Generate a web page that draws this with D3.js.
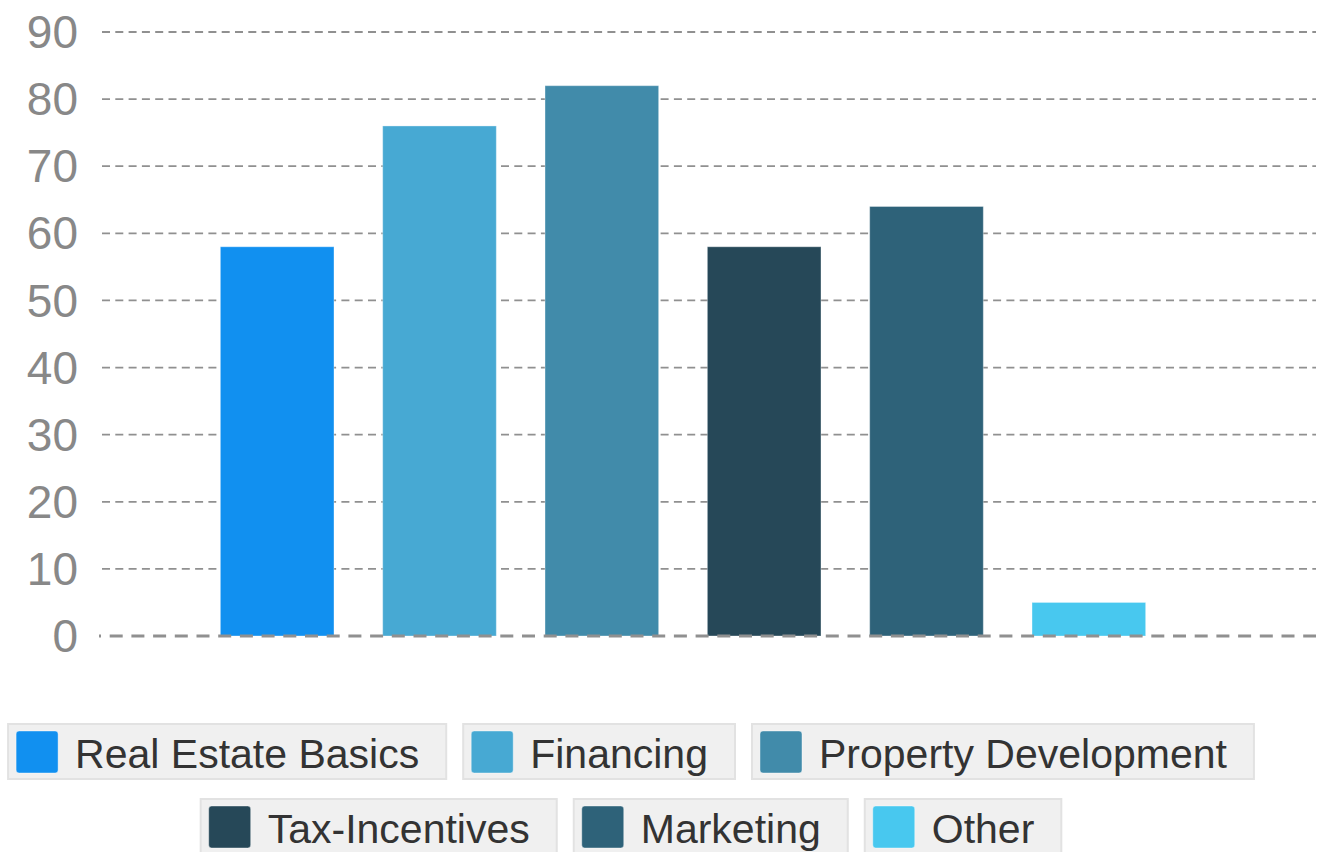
<!DOCTYPE html>
<html>
<head>
<meta charset="utf-8">
<script src="https://cdn.jsdelivr.net/npm/d3@7"></script>
<style>
  html, body { margin: 0; padding: 0; background: #ffffff; }
  svg { display: block; font-family: "Liberation Sans", Arial, sans-serif; }
</style>
</head>
<body>
<svg id="chart" width="1320" height="852"></svg>
<script>
const categories = ["Real Estate Basics", "Financing", "Property Development", "Tax-Incentives", "Marketing", "Other"];
const values = [58, 76, 82, 58, 64, 5];
const colors = ["#1190F0", "#47A9D3", "#418BAA", "#264858", "#2E6279", "#48C8EF"];
const yTicks = [0, 10, 20, 30, 40, 50, 60, 70, 80, 90];

const svg = d3.select("#chart");

const y = d3.scaleLinear().domain([0, 90]).range([636, 32]);
const x = d3.scaleBand().domain(categories).range([196, 1170]).paddingInner(0.3).paddingOuter(0.15);

// gridlines (behind bars)
const grid = svg.append("g");
grid.selectAll("line").data(yTicks.filter(t => t !== 0)).join("line")
  .attr("x1", 102).attr("x2", 1316)
  .attr("y1", d => y(d)).attr("y2", d => y(d))
  .attr("stroke", "#909090").attr("stroke-width", 1.8)
  .attr("stroke-dasharray", "8,5.3");

// tick labels
const yAxis = d3.axisLeft(y).tickValues(yTicks).tickSize(0).tickPadding(0);
const ag = svg.append("g").attr("transform", "translate(78,0)").call(yAxis);
ag.select(".domain").remove();
ag.selectAll("text")
  .attr("font-size", 46).attr("fill", "#888888")
  .attr("font-family", "'Liberation Sans', Arial, sans-serif")
  .attr("dy", "0.34em");

// bars
svg.append("g").selectAll("rect").data(categories).join("rect")
  .attr("x", d => x(d))
  .attr("width", x.bandwidth())
  .attr("y", (d, i) => y(values[i]))
  .attr("height", (d, i) => y(0) - y(values[i]))
  .attr("fill", (d, i) => colors[i])
  .attr("stroke", "rgba(255,255,255,0.35)")
  .attr("stroke-width", 1);

// zero line on top
svg.append("line")
  .attr("x1", 99).attr("x2", 1316)
  .attr("y1", y(0)).attr("y2", y(0))
  .attr("stroke", "#909090").attr("stroke-width", 3)
  .attr("stroke-dasharray", "13,8.7")
  .attr("stroke-dashoffset", 11);

// legend
const legendFont = 41;
const lg = svg.append("g");
const measure = svg.append("text").attr("font-size", legendFont).attr("visibility", "hidden");
const items = categories.map((c, i) => {
  measure.text(c);
  const tw = measure.node().getComputedTextLength();
  return { name: c, color: colors[i], w: 8 + 42 + 18 + tw + 28 };
});
measure.remove();

const gap = 15, maxW = 1300;
const rows = [];
let cur = [], curW = 0;
items.forEach(it => {
  const add = cur.length ? gap + it.w : it.w;
  if (cur.length && curW + add > maxW) { rows.push(cur); cur = []; curW = 0; }
  cur.push(it); curW += cur.length > 1 ? gap + it.w : it.w;
});
if (cur.length) rows.push(cur);

const rowTop = [723, 798];
const boxH = 57, centerX = 631;
rows.forEach((row, r) => {
  const total = d3.sum(row, d => d.w) + gap * (row.length - 1);
  let xx = centerX - total / 2;
  row.forEach(it => {
    const g = lg.append("g").attr("transform", `translate(${xx},${rowTop[r]})`);
    g.append("rect").attr("x", 1).attr("y", 1).attr("width", it.w - 2).attr("height", boxH - 2)
      .attr("fill", "#f0f0f0").attr("stroke", "#e2e2e2").attr("stroke-width", 2);
    g.append("rect").attr("x", 9).attr("y", 8).attr("width", 42).attr("height", 42).attr("rx", 3)
      .attr("fill", it.color).attr("stroke", "rgba(255,255,255,0.4)").attr("stroke-width", 1);
    g.append("text").attr("x", 68).attr("y", 45)
      .attr("font-size", legendFont).attr("fill", "#333333").text(it.name);
    xx += it.w + gap;
  });
});
</script>
</body>
</html>
